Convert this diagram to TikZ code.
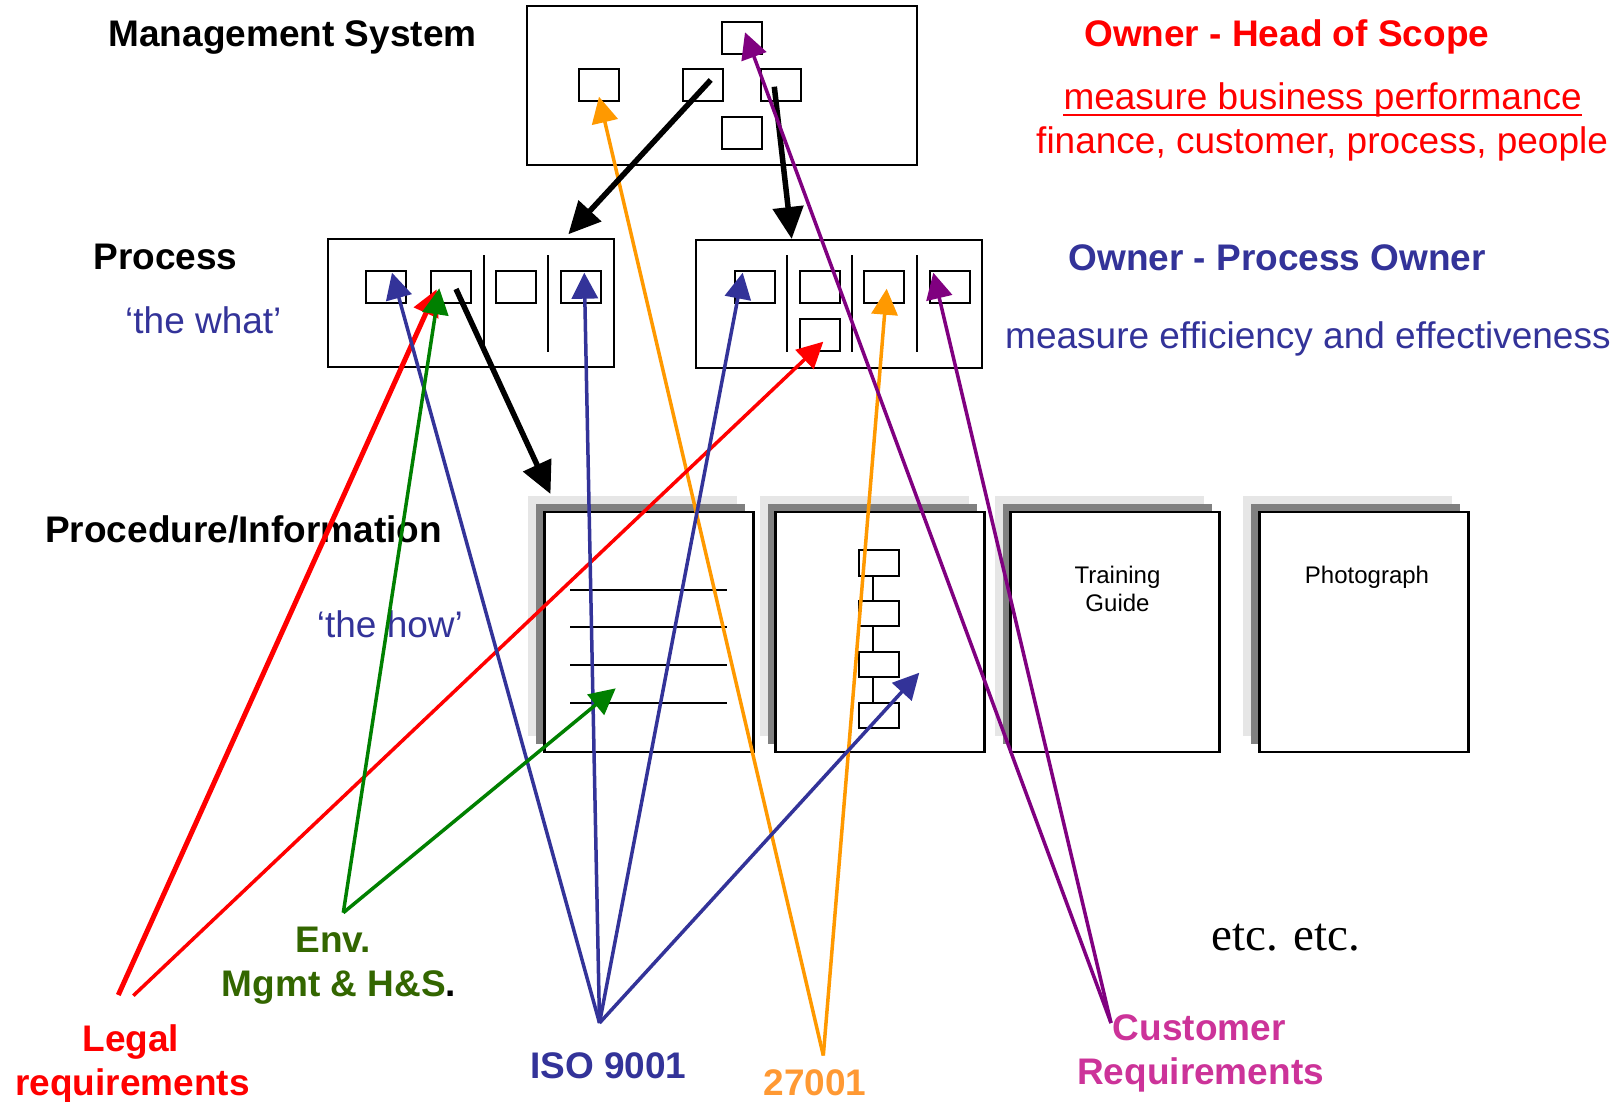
\documentclass[tikz,border=0pt]{standalone}
\usepackage{fontspec}
\setmainfont{Liberation Sans}
\newfontfamily\timesfont{Liberation Serif}
\usetikzlibrary{arrows.meta}

\definecolor{isoblue}{HTML}{333399}
\definecolor{envgreen}{HTML}{336600}
\definecolor{arrgreen}{HTML}{008000}
\definecolor{arrorange}{HTML}{FF9900}
\definecolor{txtorange}{HTML}{FF9933}
\definecolor{arrpurple}{HTML}{800080}
\definecolor{custpink}{HTML}{CC3399}
\definecolor{pagedark}{HTML}{808080}
\definecolor{pagelight}{HTML}{E6E6E6}

\begin{document}
\begin{tikzpicture}[x=1pt,y=-1pt,
  bigfont/.style={font=\fontsize{37}{42}\selectfont},
  lbl/.style={bigfont, inner sep=0pt, anchor=base west},
  lblc/.style={bigfont, inner sep=0pt, anchor=base},
  outerbox/.style={draw, line width=2pt, rectangle, inner sep=0pt},
  cellbox/.style={draw, line width=2pt, fill=white, inner sep=0pt, minimum width=40pt, minimum height=32pt},
  flowbox/.style={draw, line width=2pt, fill=white, inner sep=0pt, minimum width=40pt, minimum height=25.5pt},
  divline/.style={line width=1.8pt},
  docface/.style={draw, line width=2.5pt, fill=white, inner sep=0pt, minimum width=209pt, minimum height=240pt},
  pagelabel/.style={font=\fontsize{24}{28}\selectfont, inner sep=0pt, anchor=base},
  heavyarrow/.style={line width=5.5pt, -{Triangle[length=32pt,width=30pt]}},
  linkarrow/.style={line width=3.5pt, -{Triangle[length=26pt,width=26pt]}},
]
\useasboundingbox (0,0) rectangle (1619,1102);
\fill[white] (0,0) rectangle (1619,1102);

% ---------- management system ----------
\node[outerbox, minimum width=390pt, minimum height=158.7pt] (msbox) at (721.7,85.35) {};
\node[cellbox] (msTop) at (741.7,37.8) {};
\node[cellbox] (msLeft) at (598.8,85.5) {};
\node[cellbox] (msMid) at (702.7,85.5) {};
\node[cellbox] (msRight) at (780.8,85.5) {};
\node[cellbox] (msBottom) at (741.7,133.2) {};

% ---------- processes ----------
\node[outerbox, minimum width=286pt, minimum height=128pt] (pl) at (470.5,303) {};
\draw[divline] (484,255) -- (484,351.7);
\draw[divline] (548.3,255) -- (548.3,351.7);
\node[cellbox] (pl1) at (386.2,287) {};
\node[cellbox] (pl2) at (450.8,287) {};
\node[cellbox] (pl3) at (515.8,287) {};
\node[cellbox] (pl4) at (580.7,287) {};

\node[outerbox, minimum width=286pt, minimum height=128pt] (pr) at (839,303.5) {};
\draw[divline] (787.3,255) -- (787.3,351.7);
\draw[divline] (852.3,255) -- (852.3,351.7);
\draw[divline] (917.3,255) -- (917.3,351.7);
\node[cellbox] (pr1) at (754.7,287.3) {};
\node[cellbox] (pr2) at (819.7,287.3) {};
\node[cellbox] (pr2b) at (819.7,335.2) {};
\node[cellbox] (pr3) at (884.3,287.3) {};
\node[cellbox] (pr4) at (949.5,287.3) {};

% ---------- procedure pages (stacked sheets) ----------
\foreach \px/\nm in {544.3/doc1, 775.7/doc2, 1010.7/doc3, 1259.3/doc4} {
  \fill[pagelight] (\px-16,512-16) rectangle +(209,240);
  \fill[pagedark] (\px-8,512-8) rectangle +(209,240);
  \node[docface] (\nm) at (\px+104.5,632) {};
}
% text page
\foreach \ly in {589.7,627,665,702.7}
  \draw[line width=1.8pt] (570,\ly) -- (727.3,\ly);
% flow chart page
\draw[line width=2pt] (872.7,563) -- (872.7,715.5);
\node[flowbox] (f1) at (878.5,562.8) {};
\node[flowbox] (f2) at (878.5,613.5) {};
\node[flowbox] (f3) at (878.5,664.5) {};
\node[flowbox] (f4) at (878.5,715.5) {};
% labelled pages
\node[pagelabel] (trainTxt) at (1117.5,583.3) {Training};
\node[pagelabel] (guideTxt) at (1117.5,611.7) {Guide};
\node[pagelabel] (photoTxt) at (1367,583.3) {Photograph};

% ---------- left-hand headings ----------
\node[lbl, font=\fontsize{37}{42}\selectfont\bfseries] (hMS) at (108.3,46.7) {Management System};
\node[lbl, font=\fontsize{37}{42}\selectfont\bfseries] (hProc) at (93.3,269.3) {Process};
\node[lbl, text=isoblue] (hWhat) at (125,333) {‘the what’};
\node[lbl, font=\fontsize{37}{42}\selectfont\bfseries] (hProcInfo) at (45,542.3) {Procedure/Information};
\node[lbl, text=isoblue] (hHow) at (316.7,637.3) {‘the how’};

% ---------- right-hand notes ----------
\node[lbl, text=red, font=\fontsize{37}{42}\selectfont\bfseries] (ownHead) at (1084,47) {Owner - Head of Scope};
\node[lbl, text=red] (mbp) at (1063.3,110) {measure business performance};
\draw[red, line width=2.5pt] ([yshift=-5pt]mbp.base west) -- ([yshift=-5pt]mbp.base east);
\node[lbl, text=red] (fcpp) at (1036,153.3) {finance, customer, process, people};
\node[lbl, text=isoblue, font=\fontsize{37}{42}\selectfont\bfseries] (ownProc) at (1068.3,270) {Owner - Process Owner};
\node[lbl, text=isoblue] (mee) at (1005,348.3) {measure efficiency and effectiveness};
\node[inner sep=0pt, anchor=base west, font=\timesfont\fontsize{47}{54}\selectfont] (etc) at (1211,950) {etc. etc.};

% ---------- sources ----------
\node[lblc, text=envgreen, font=\fontsize{37}{42}\selectfont\bfseries] (envA) at (333.3,952.7) {Env.};
\node[lbl, font=\fontsize{37}{42}\selectfont\bfseries] (envB) at (221.7,996.7) {\textcolor{envgreen}{Mgmt \& H\&S}.};
\node[lblc, text=red, font=\fontsize{37}{42}\selectfont\bfseries] (legalA) at (130.8,1051.7) {Legal};
\node[lbl, text=red, font=\fontsize{37}{42}\selectfont\bfseries] (legalB) at (15,1095.7) {requirements};
\node[lbl, text=isoblue, font=\fontsize{37}{42}\selectfont\bfseries] (iso) at (530,1078.3) {ISO 9001};
\node[lbl, text=txtorange, font=\fontsize{37}{42}\selectfont\bfseries] (std) at (763.3,1095) {27001};
\node[lbl, text=custpink, font=\fontsize{37}{42}\selectfont\bfseries] (custA) at (1112.7,1040) {Customer};
\node[lbl, text=custpink, font=\fontsize{37}{42}\selectfont\bfseries] (custB) at (1077,1084) {Requirements};

% ---------- connector ends ----------
\coordinate (legalHubA) at (118.3,995);
\coordinate (legalHubB) at (133.3,995.7);
\coordinate (envHub) at (343.3,912.7);
\coordinate (isoHub) at (599.5,1023);
\coordinate (stdHub) at (823.3,1055.5);
\coordinate (custHub) at (1111,1023);

\coordinate (tLegalA) at (436.7,289.3);
\coordinate (tLegalB) at (823.3,341.7);
\coordinate (tEnvA) at (439.3,288.3);
\coordinate (tEnvB) at (615.7,688.3);
\coordinate (tIsoA) at (392,272.7);
\coordinate (tIsoB) at (584.3,272.7);
\coordinate (tIsoC) at (742.7,272.7);
\coordinate (tIsoD) at (919.3,672.7);
\coordinate (tStdA) at (599,96.7);
\coordinate (tStdB) at (886.7,288.7);
\coordinate (tCustA) at (745,32.3);
\coordinate (tCustB) at (933.3,272.7);

\coordinate (sDownA) at (710.7,80);
\coordinate (tDownA) at (568.3,234.3);
\coordinate (sDownB) at (774.3,86.7);
\coordinate (tDownB) at (791.7,239);
\coordinate (sDownC) at (456,289);
\coordinate (tDownC) at (550.5,494);

% ---------- connectors ----------
\draw[linkarrow, arrorange] (stdHub) -- (tStdA);
\draw[linkarrow, arrorange] (stdHub) -- (tStdB);

\draw[heavyarrow] (sDownA) -- (tDownA);
\draw[heavyarrow] (sDownB) -- (tDownB);
\draw[heavyarrow] (sDownC) -- (tDownC);

\draw[linkarrow, arrpurple] (custHub) -- (tCustA);
\draw[linkarrow, arrpurple] (custHub) -- (tCustB);

\draw[linkarrow, red, line width=5pt] (legalHubA) -- (tLegalA);
\draw[linkarrow, red] (legalHubB) -- (tLegalB);

\draw[linkarrow, isoblue] (isoHub) -- (tIsoA);
\draw[linkarrow, isoblue] (isoHub) -- (tIsoB);
\draw[linkarrow, isoblue] (isoHub) -- (tIsoC);
\draw[linkarrow, isoblue] (isoHub) -- (tIsoD);

\draw[linkarrow, arrgreen] (envHub) -- (tEnvA);
\draw[linkarrow, arrgreen] (envHub) -- (tEnvB);
\end{tikzpicture}
\end{document}
